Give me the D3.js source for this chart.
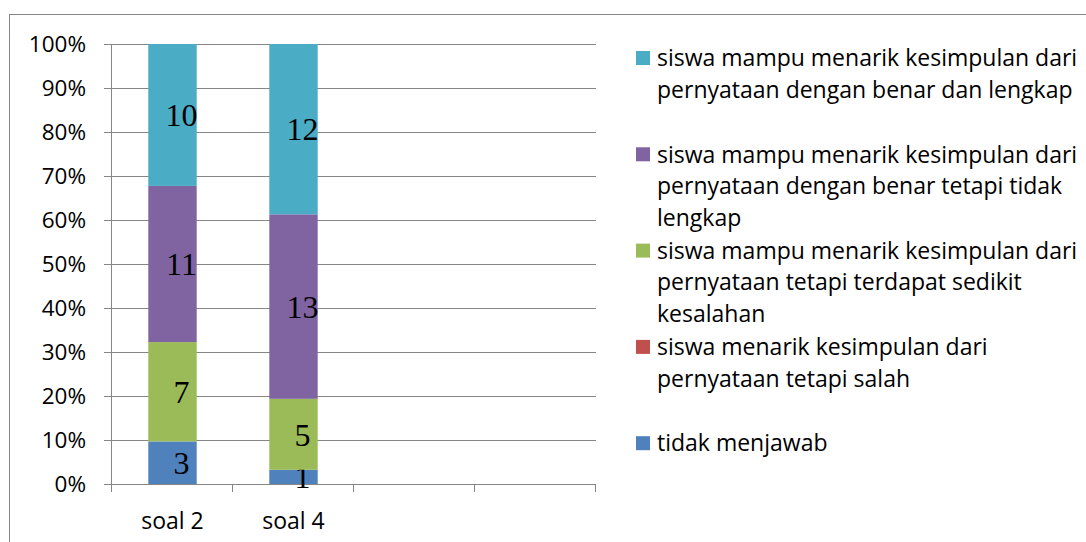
<!DOCTYPE html>
<html>
<head>
<meta charset="utf-8">
<script src="https://cdn.jsdelivr.net/npm/d3@7"></script>
<style>
  body { margin: 0; background: #fff; }
  svg { display: block; }
</style>
</head>
<body>
<svg id="chart" width="1086" height="542"></svg>
<script>
const categories = ["soal 2", "soal 4", "", " "];
const seriesNames = [
    "tidak menjawab",
    "siswa menarik kesimpulan dari pernyataan tetapi salah",
    "siswa mampu menarik kesimpulan dari pernyataan tetapi terdapat sedikit kesalahan",
    "siswa mampu menarik kesimpulan dari pernyataan dengan benar tetapi tidak lengkap",
    "siswa mampu menarik kesimpulan dari pernyataan dengan benar dan lengkap"
];
const seriesColors = ["#4F81BD", "#C0504D", "#9BBB59", "#8064A2", "#4BACC6"];
// counts per series, one per category (only the first two categories have data)
const tidakMenjawab = [3, 1];
const salah = [0, 0];
const sedikitKesalahan = [7, 5];
const tidakLengkap = [11, 13];
const lengkap = [10, 12];
const yTicks = [0, 0.1, 0.2, 0.3, 0.4, 0.5, 0.6, 0.7, 0.8, 0.9, 1];

const width = 1086;
const height = 542;
const margin = { top: 44, right: 490, bottom: 58, left: 112 };

const svg = d3.select("#chart");

// outer chart border
svg.append("rect")
    .attr("x", 9.5).attr("y", 14.5)
    .attr("width", width).attr("height", height)
    .attr("fill", "none").attr("stroke", "#868686");

const rows = categories.slice(0, 2).map((c, i) => ({
    cat: c,
    s0: tidakMenjawab[i], s1: salah[i], s2: sedikitKesalahan[i], s3: tidakLengkap[i], s4: lengkap[i]
}));
const keys = ["s0", "s1", "s2", "s3", "s4"];

const stack = d3.stack().keys(keys).offset(d3.stackOffsetExpand);
const stacked = stack(rows);

const x = d3.scaleBand()
    .domain(categories)
    .range([margin.left, width - margin.right])
    .paddingInner(0.6).paddingOuter(0.3);
const band = (width - margin.right - margin.left) / categories.length;

const y = d3.scaleLinear()
    .domain([0, 1])
    .range([height - margin.bottom, margin.top]);

// gridlines
svg.append("g")
    .selectAll("line")
    .data(yTicks)
    .join("line")
    .attr("x1", margin.left - 8)
    .attr("x2", width - margin.right)
    .attr("y1", d => Math.round(y(d)) + 0.5)
    .attr("y2", d => Math.round(y(d)) + 0.5)
    .attr("stroke", "#868686");

// y axis line
svg.append("line")
    .attr("x1", margin.left - 0.5).attr("x2", margin.left - 0.5)
    .attr("y1", y(1)).attr("y2", y(0))
    .attr("stroke", "#868686");

// x ticks
const xTickPos = d3.range(categories.length + 1).map(i => margin.left + i * band);
svg.append("g")
    .selectAll("line")
    .data(xTickPos)
    .join("line")
    .attr("x1", d => Math.round(d) - 0.5)
    .attr("x2", d => Math.round(d) - 0.5)
    .attr("y1", y(0))
    .attr("y2", y(0) + 8)
    .attr("stroke", "#868686");

// y tick labels
svg.append("g")
    .selectAll("text")
    .data(yTicks)
    .join("text")
    .attr("x", 86)
    .attr("y", d => y(d))
    .attr("dy", "0.36em")
    .attr("text-anchor", "end")
    .style("font-family", "'Open Sans', sans-serif")
    .style("font-size", "22.5px")
    .attr("fill", "#000")
    .text(d3.format(".0%"));

// x labels
svg.append("g")
    .selectAll("text")
    .data(categories)
    .join("text")
    .attr("x", d => x(d) + x.bandwidth() / 2)
    .attr("y", 521)
    .attr("dy", "0.36em")
    .attr("text-anchor", "middle")
    .style("font-family", "'Open Sans', sans-serif")
    .style("font-size", "23px")
    .text(d => d.trim());

// bars
const layers = svg.append("g")
    .selectAll("g")
    .data(stacked)
    .join("g")
    .attr("fill", (d, i) => seriesColors[i]);

layers.selectAll("rect")
    .data(d => d)
    .join("rect")
    .attr("x", d => x(d.data.cat))
    .attr("width", x.bandwidth())
    .attr("y", d => y(d[1]))
    .attr("height", d => y(d[0]) - y(d[1]));

// value labels
layers.selectAll("text")
    .data((d, i) => d.map(p => ({ p, v: p.data[keys[i]] })).filter(o => o.v > 0))
    .join("text")
    .attr("x", o => x(o.p.data.cat) + x.bandwidth() / 2 + 9)
    .attr("y", o => (y(o.p[0]) + y(o.p[1])) / 2)
    .attr("dy", "0.35em")
    .attr("text-anchor", "middle")
    .attr("fill", "#000")
    .style("font-family", "'Liberation Serif', 'Times New Roman', serif")
    .style("font-size", "32px")
    .text(o => o.v);

// legend (top entry is the last series)
const legendX = 636;
const legendTop = 58;
const slot = 96.3;
const lineH = 31.5;
const legend = svg.append("g");
const legendOrder = d3.range(seriesNames.length).reverse();

legendOrder.forEach((si, k) => {
    const g = legend.append("g").attr("transform", `translate(${legendX}, ${legendTop + k * slot})`);
    g.append("rect")
        .attr("x", 0).attr("y", -7)
        .attr("width", 14).attr("height", 14)
        .attr("fill", seriesColors[si]);
    const t = g.append("text")
        .style("font-family", "'Open Sans', sans-serif")
        .style("font-size", "23px")
        .attr("fill", "#000");
    // wrap words into lines
    const words = seriesNames[si].split(" ");
    let line = [];
    let n = 0;
    let tspan = t.append("tspan").attr("x", 21).attr("y", 0).attr("dy", "0.36em");
    words.forEach(w => {
        line.push(w);
        tspan.text(line.join(" "));
        if (tspan.node().getComputedTextLength() > 428 && line.length > 1) {
            line.pop();
            tspan.text(line.join(" "));
            line = [w];
            n++;
            tspan = t.append("tspan").attr("x", 21).attr("y", n * lineH).attr("dy", "0.36em").text(w);
        }
    });
});
</script>
</body>
</html>
